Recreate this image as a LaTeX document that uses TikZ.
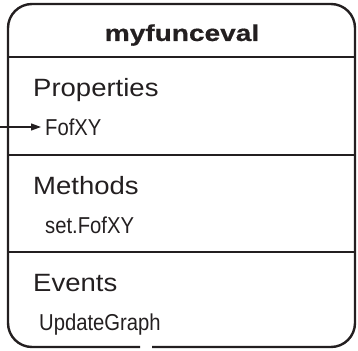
\documentclass[tikz,border=0pt]{standalone}
\usepackage{fontspec}
\setmainfont{Liberation Sans}
\newfontfamily\hdfont[FakeStretch=1.1]{Liberation Sans}
\newfontfamily\subfont[FakeStretch=0.88]{Liberation Sans}
\newfontfamily\ttlfont[FakeStretch=1.22,FakeBold=0.6]{Liberation Sans Bold}
\usetikzlibrary{arrows.meta}
\definecolor{ink}{HTML}{231F20}
\tikzset{
  boxline/.style={draw=ink, line width=2.4pt, rounded corners=24pt},
  sepline/.style={draw=ink, line width=1.4pt},
  ttl/.style={inner sep=0pt, text=ink, font=\ttlfont\fontsize{23}{27}\selectfont},
  hd/.style={inner sep=0pt, anchor=base west, text=ink, font=\hdfont\fontsize{25}{30}\selectfont},
  sub/.style={inner sep=0pt, anchor=base west, text=ink, font=\subfont\fontsize{23}{27}\selectfont},
  conn/.style={draw=ink, line width=1.2pt, -{Triangle[length=10pt,width=7pt]}}
}
\begin{document}
\begin{tikzpicture}[x=1pt,y=-1pt]
\useasboundingbox (0,0) rectangle (358,350);
% outline with small gap at the bottom
\draw[boxline] (152,347) -- (355,347) -- (355,4) -- (8,4) -- (8,347) -- (140,347);
% separators
\draw[sepline] (8,57) -- (355,57);
\draw[sepline] (8,155) -- (355,155);
\draw[sepline] (8,252) -- (355,252);
% title
\node[ttl, anchor=base] (title) at (182,41) {myfunceval};
% sections
\node[hd] (props) at (33,96) {Properties};
\node[sub] (fofxy) at (45,135) {FofXY};
\node[hd] (meths) at (33,194) {Methods};
\node[sub] (setf) at (45,233) {set.FofXY};
\node[hd] (events) at (33,291) {Events};
\node[sub] (upd) at (39,330) {UpdateGraph};
% connector
\coordinate (src) at (0,127);
\draw[conn, shorten >=4pt] (src) -- (src -| fofxy.west);
\end{tikzpicture}
\end{document}
